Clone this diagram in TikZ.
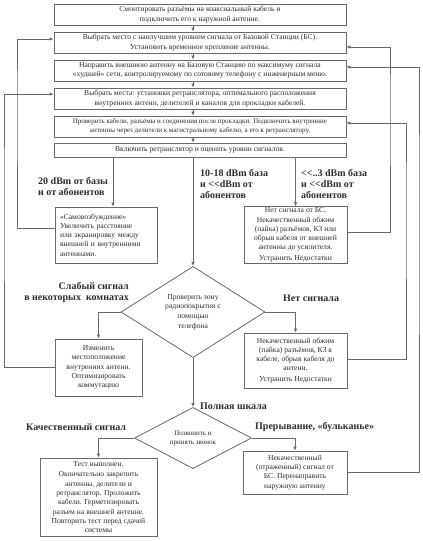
\documentclass[tikz,border=0pt]{standalone}
\usepackage{fontspec}
\setmainfont{Liberation Serif}
\usetikzlibrary{arrows.meta,shapes.geometric}
\definecolor{ln}{HTML}{6A6A6A}
\definecolor{tx}{HTML}{2E2E2E}
\begin{document}
\begin{tikzpicture}[x=1pt,y=-1pt,
  box/.style={draw=ln,line width=0.8pt,inner sep=1pt,align=center,
    font=\fontsize{7.6}{9.3}\selectfont,text=tx},
  dia/.style={draw=ln,line width=0.8pt,shape=diamond,inner sep=0pt,align=center,
    font=\fontsize{7.6}{9.7}\selectfont,text=tx},
  arr/.style={draw=ln,line width=0.8pt,-{Latex[length=4pt,width=3.6pt]}},
  lbl/.style={font=\fontsize{10}{11}\selectfont\bfseries,text=tx,inner sep=0pt,align=left}
]
\useasboundingbox[fill=white] (0,0) rectangle (423,541);

% main chain
\node[box,minimum width=292pt,minimum height=21pt] (b1) at (200,14.5)
  {Смонтировать разъёмы на коаксиальный кабель и\\подключить его к наружной антенне.};
\node[box,minimum width=292pt,minimum height=21pt] (b2) at (200,42.5)
  {Выбрать место с наилучшим уровнем сигнала от Базовой Станции (БС).\\Установить временное крепление антенны.};
\node[box,minimum width=292pt,minimum height=21pt] (b3) at (200,70.5)
  {Направить внешнюю антенну на Базовую Станцию по максимуму сигнала\\«худшей» сети, контролируемому по сотовому телефону с инженерным меню.};
\node[box,minimum width=292pt,minimum height=21pt] (b4) at (200,98.5)
  {Выбрать места: установки ретранслятора, оптимального расположения\\внутренних антенн, делителей и каналов для прокладки кабелей.};
\node[box,minimum width=292pt,minimum height=21pt,font=\fontsize{7}{9.3}\selectfont] (b5) at (200,126.5)
  {Проверить кабели, разъёмы и соединения после прокладки. Подключить внутренние\\антенны через делители к магистральному кабелю, а его к ретранслятору.};
\node[box,minimum width=292pt,minimum height=14pt] (b6) at (200,150)
  {Включить ретранслятор и оценить уровни сигналов.};

\coordinate (cx) at (193,0);
\coordinate (c113) at (113,0);
\foreach \a/\b in {b1/b2,b2/b3,b3/b4,b4/b5,b5/b6}
  \draw[arr] (\a.south -| cx) -- (\b.north -| cx);

% second level
\node[box,minimum width=102pt,minimum height=56pt,text width=92pt,align=left,inner xsep=5pt] (b7) at (106,235)
  {«Самовозбуждение»\\Увеличить расстояние\\или экранировку между\\внешней и внутренними\\антеннами.};
\node[box,minimum width=103pt,minimum height=56pt] (b9) at (295.5,235)
  {Нет сигнала от БС.\\Некачественный обжим\\(пайка) разъёмов, КЗ или\\обрыв кабеля от внешней\\антенны до усилителя.\\[1.5pt]Устранить Недостатки};

\draw[arr] (b6.south -| c113) -- (b7.north -| c113);
\draw[arr] (b9.north |- b6.south) -- (b9.north);

\node[lbl,anchor=west] (l20) at (38,186.5) {20 dBm от базы\\и от абонентов};
\node[lbl,anchor=west] (l10) at (200,184) {10-18 dBm база\\и <{}<dBm от\\абонентов};
\node[lbl,anchor=west] (l3) at (301,184) {<{}<..3 dBm база\\и <{}<dBm от\\абонентов};

% diamond 1
\node[dia,minimum width=144pt,minimum height=84pt] (d1) at (193,312)
  {Проверить зону\\радиопокрытия с\\помощью\\телефона};
\draw[arr] (d1.north |- b6.south) -- (d1.north);

\node[box,minimum width=87pt,minimum height=57pt] (b8) at (98.5,367.5)
  {Изменить\\местоположение\\внутренних антенн.\\Оптимизировать\\коммутацию};
\node[box,minimum width=103pt,minimum height=55pt] (b10) at (295.5,360.5)
  {Некачественный обжим\\(пайка) разъёмов, КЗ в\\кабеле, обрыв кабеля до\\антени.\\[1.5pt]Устранить Недостатки};

\draw[arr] (d1.west) -| (b8.north);
\draw[arr] (d1.east) -| (b10.north);

\node[lbl,anchor=east,align=right] (lweak) at (129,292.5) {Слабый сигнал\\в некоторых~~комнатах};
\node[lbl,anchor=west] (lno) at (283,298) {Нет сигнала};

% diamond 2
\node[dia,minimum width=117pt,minimum height=56pt,font=\fontsize{7}{9}\selectfont] (d2) at (193,438)
  {Позвонить и\\принять звонок};
\draw[arr] (d1.south) -- (d2.north);
\node[lbl,anchor=west] (lfull) at (200,406) {Полная шкала};

\node[box,minimum width=117pt,minimum height=78pt] (b11) at (98.5,497)
  {Тест выполнен.\\[1.5pt]Окончательно закрепить\\антенны, делители и\\ретранслятор. Проложить\\кабели. Герметизировать\\разъем на внешней антенне.\\Повторить тест перед сдачей\\системы};
\node[box,minimum width=104pt,minimum height=43pt] (b12) at (295,472.5)
  {Некачественный\\(отраженный) сигнал от\\БС. Перенаправить\\наружную антенну};

\draw[arr] (d2.west) -| (b11.north);
\draw[arr] (d2.east) -| (b12.north);

\node[lbl,anchor=west] (lgood) at (26,427) {Качественный сигнал};
\node[lbl,anchor=west] (lbreak) at (255,427) {Прерывание, «бульканье»};

% feedback lines
\coordinate (L1) at (17,100);
\coordinate (L2) at (4,200);
\coordinate (R1) at (390,100);
\coordinate (R2) at (406,200);
\coordinate (R3) at (419,200);
\draw[arr] ([yshift=7pt]b7.west) -| (L1) |- ([yshift=3.5pt]b2.west);
\draw[arr] (b8.west) -| (L2) |- ([yshift=4.5pt]b4.west);
\draw[arr] ([yshift=3pt]b9.east) -| (R1) |- ([yshift=-4.5pt]b2.east);
\draw[arr] ([yshift=1.5pt]b10.east) -| (R2) |- ([yshift=3.5pt]b5.east);
\draw[arr] (b12.east) -| (R3) |- ([yshift=3.5pt]b3.east);
\end{tikzpicture}
\end{document}
